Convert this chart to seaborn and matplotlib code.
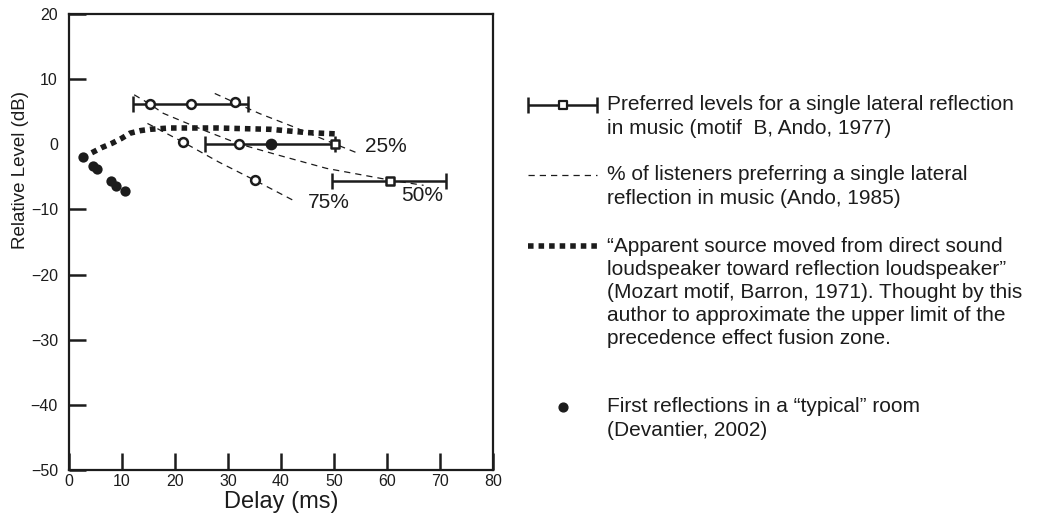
import numpy as np
import pandas as pd
import seaborn as sns
import matplotlib.pyplot as plt

sns.set_theme(style="white")
plt.rcParams["font.family"] = ["Liberation Sans", "DejaVu Sans"]

INK = "#1c1c1c"

# First reflections in a "typical" room (Devantier, 2002)
refl_delay = [2.7, 4.6, 5.2, 7.9, 8.9, 10.6]
refl_level = [-2.0, -3.3, -3.8, -5.6, -6.4, -7.1]

# Barron (1971) apparent-source-shift curve
barron_delay = [4.3, 6.2, 8.1, 9.9, 11.5, 13.5, 15.3, 19.0, 23.5, 28.0, 33.0, 38.0, 44.8, 50.3]
barron_level = [-1.3, -0.5, 0.15, 0.9, 1.7, 2.1, 2.3, 2.5, 2.5, 2.5, 2.4, 2.3, 1.8, 1.6]

# Ando (1985) % of listeners preferring a single reflection
pct25_delay = [27.5, 31.3, 36.0, 42.3, 50.0, 54.6]
pct25_level = [7.8, 6.4, 4.7, 2.7, 0.1, -1.4]
pct50_delay = [12.3, 15.2, 17.8, 25.3, 32.1, 39.2, 48.6, 60.6, 66.9]
pct50_level = [7.6, 6.2, 4.75, 2.2, 0.05, -1.6, -3.7, -5.5, -6.3]
pct75_delay = [14.8, 21.6, 28.2, 35.0, 42.3]
pct75_level = [3.2, 0.3, -2.7, -5.5, -8.6]
pct_labels = ["25%", "50%", "75%"]
pct_label_delay = [55.8, 62.6, 45.1]
pct_label_level = [-0.35, -7.8, -9.0]

# Ando (1977) preferred levels: ranges
pref_level = [6.2, 0.05, -5.6]
pref_low = [12.0, 25.7, 49.7]
pref_high = [33.8, 50.2, 71.1]

open_delay = [15.2, 23.0, 31.3, 21.6, 32.1, 35.0]
open_level = [6.2, 6.2, 6.45, 0.3, 0.05, -5.5]
filled_delay = [38.2]
filled_level = [0.05]
square_delay = [50.2, 60.6]
square_level = [0.05, -5.6]

legend_text = [
    ["Preferred levels for a single lateral reflection",
     "in music (motif  B, Ando, 1977)"],
    ["% of listeners preferring a single lateral",
     "reflection in music (Ando, 1985)"],
    ["\u201cApparent source moved from direct sound",
     "loudspeaker toward reflection loudspeaker\u201d",
     "(Mozart motif, Barron, 1971). Thought by this",
     "author to approximate the upper limit of the",
     "precedence effect fusion zone."],
    ["First reflections in a \u201ctypical\u201d room",
     "(Devantier, 2002)"],
]

fig = plt.figure(figsize=(10.38, 5.23), dpi=100)
ax = fig.add_axes([69 / 1038, 1 - 470 / 523, 424 / 1038, 456 / 523])

# dashed % lines
for dx, dy in [(pct25_delay, pct25_level), (pct50_delay, pct50_level), (pct75_delay, pct75_level)]:
    sns.lineplot(x=dx, y=dy, ax=ax, sort=False, color=INK, lw=0.9,
                 linestyle=(0, (5, 4)), estimator=None)
for lab, lx, ly in zip(pct_labels, pct_label_delay, pct_label_level):
    ax.text(lx, ly, lab, fontsize=15, color=INK, va="center", ha="left")

# Barron dotted curve
sns.lineplot(x=barron_delay, y=barron_level, ax=ax, sort=False, color=INK,
             lw=4.0, linestyle=(0, (1, 0.9)), estimator=None)

# preferred-level ranges
mid = [(lo + hi) / 2 for lo, hi in zip(pref_low, pref_high)]
xerr = [[m - lo for m, lo in zip(mid, pref_low)], [hi - m for m, hi in zip(mid, pref_high)]]
ax.errorbar(mid, pref_level, xerr=xerr, fmt="none", ecolor=INK, elinewidth=1.8,
            capsize=6, capthick=1.8, zorder=3)

ax.scatter(open_delay, open_level, s=40, facecolor="white", edgecolor=INK,
           linewidth=1.8, zorder=4)
ax.scatter(filled_delay, filled_level, s=55, color=INK, zorder=4)
ax.scatter(square_delay, square_level, s=34, marker="s", facecolor="white",
           edgecolor=INK, linewidth=1.8, zorder=4)

# first reflections
sns.scatterplot(x=refl_delay, y=refl_level, ax=ax, s=55, color=INK,
                edgecolor=INK, linewidth=0, zorder=5)

ax.set_xlim(0, 80)
ax.set_ylim(-50, 20)
ax.set_xticks(np.arange(0, 81, 10))
ax.set_yticks(np.arange(-50, 21, 10))
ax.set_yticklabels([f"\u2212{abs(v)}" if v < 0 else str(v) for v in range(-50, 21, 10)])
ax.tick_params(direction="in", length=12, width=1.8, colors=INK, labelsize=11.5,
               left=True, bottom=True)
ax.tick_params(axis="y", pad=8)
ax.tick_params(axis="x", pad=3)
for t in ax.yaxis.get_major_ticks():
    if abs(t.get_loc()) < 1e-9:
        t.tick1line.set_visible(False)
for sp in ax.spines.values():
    sp.set_color(INK)
    sp.set_linewidth(1.6)
ax.set_xlabel("Delay (ms)", fontsize=17, color=INK, labelpad=1)
ax.set_ylabel("Relative Level (dB)", fontsize=13.5, color=INK)
ax.yaxis.set_label_coords(-0.095, 0.658)

# legend drawn in figure pixel space
lg = fig.add_axes([0, 0, 1, 1])
lg.set_xlim(0, 1038)
lg.set_ylim(523, 0)
lg.axis("off")
entry_y = [105, 175, 246, 407]
hx0, hx1, hxm = 528, 597, 563
lg.errorbar([hxm], [entry_y[0]], xerr=[[hxm - hx0], [hx1 - hxm]], fmt="none",
            ecolor=INK, elinewidth=1.8, capsize=6, capthick=1.8)
lg.scatter([hxm], [entry_y[0]], s=28, marker="s", facecolor="white",
           edgecolor=INK, linewidth=1.6, zorder=4)
lg.plot([hx0, hx1], [entry_y[1]] * 2, color=INK, lw=0.9, linestyle=(0, (5, 4)))
lg.plot([hx0, hx1], [entry_y[2]] * 2, color=INK, lw=4.0, linestyle=(0, (1, 0.9)))
lg.scatter([hxm], [entry_y[3]], s=40, color=INK)
for ey, lines in zip(entry_y, legend_text):
    for i, line in enumerate(lines):
        lg.text(607, ey + i * 23.2, line, fontsize=15, color=INK, va="center", ha="left")

fig.savefig("out.png", dpi=100)
